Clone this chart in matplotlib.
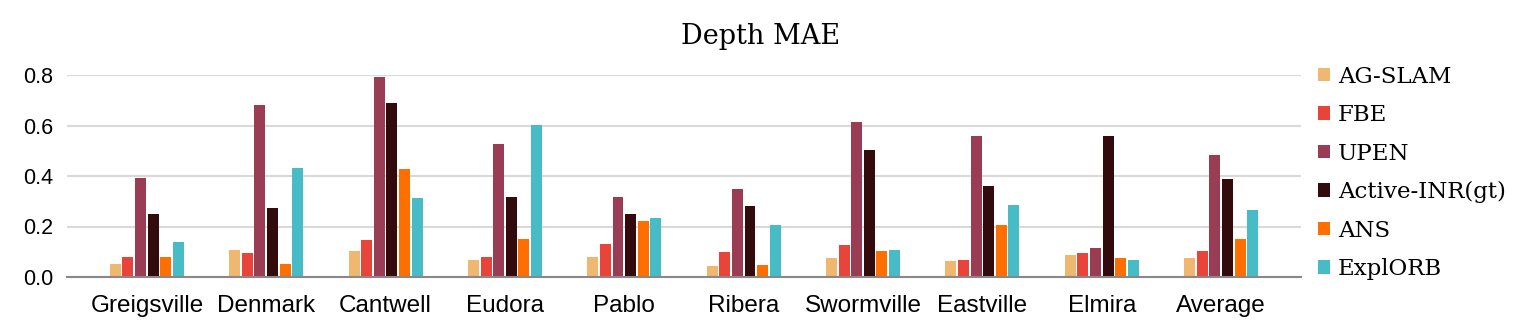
import matplotlib
matplotlib.use("Agg")
import matplotlib.pyplot as plt
import numpy as np
from matplotlib.patches import Patch

categories = ["Greigsville", "Denmark", "Cantwell", "Eudora", "Pablo",
              "Ribera", "Swormville", "Eastville", "Elmira", "Average"]
ag_slam = [0.051, 0.106, 0.102, 0.067, 0.078, 0.044, 0.074, 0.062, 0.086, 0.074]
fbe = [0.078, 0.094, 0.145, 0.078, 0.129, 0.098, 0.125, 0.067, 0.094, 0.102]
upen = [0.391, 0.680, 0.792, 0.525, 0.316, 0.350, 0.613, 0.560, 0.114, 0.484]
active_inr = [0.248, 0.272, 0.688, 0.318, 0.248, 0.280, 0.503, 0.360, 0.560, 0.388]
ans = [0.078, 0.051, 0.426, 0.152, 0.222, 0.048, 0.102, 0.206, 0.074, 0.152]
explorb = [0.137, 0.433, 0.314, 0.603, 0.232, 0.206, 0.106, 0.286, 0.066, 0.264]
series_names = ["AG-SLAM", "FBE", "UPEN", "Active-INR(gt)", "ANS", "ExplORB"]
y_ticks = [0.0, 0.2, 0.4, 0.6, 0.8]
title = "Depth MAE"

series = [ag_slam, fbe, upen, active_inr, ans, explorb]
colors = ["#EFB76F", "#E9443A", "#9B3C55", "#330B0C", "#FF6F00", "#47BCC6"]

fig = plt.figure(figsize=(15.22, 3.36), dpi=100)
ax = fig.add_axes([67/1522, 59/336, 1234/1522, 202/336])

x = np.arange(len(categories))
step = 0.106
width = 0.092
for i, (vals, c) in enumerate(zip(series, colors)):
    ax.bar(x + (i - 2.5) * step, vals, width=width, color=c, zorder=3,
           edgecolor="none")

ax.set_xlim(-0.67, len(categories) - 1 + 0.67)
ax.set_ylim(0, 0.8)
ax.set_yticks(y_ticks)
ax.set_yticklabels([f"{t:.1f}" for t in y_ticks], fontsize=15.5,
                   fontfamily="Liberation Sans")
ax.set_xticks(x)
ax.set_xticklabels(categories, fontsize=17.5, fontfamily="Liberation Sans")
ax.tick_params(axis="both", length=0)
ax.tick_params(axis="y", pad=10)
ax.tick_params(axis="x", pad=13)
ax.yaxis.grid(True, color="#D9D9D9", linewidth=1.5, zorder=0)
ax.set_axisbelow(True)
for s in ["top", "right", "left"]:
    ax.spines[s].set_visible(False)
ax.spines["bottom"].set_color("#888888")
ax.spines["bottom"].set_linewidth(1.5)
ax.spines["bottom"].set_zorder(4)

fig.text(0.5, 1 - 37/336, title, ha="center", va="center",
         fontsize=19.5, fontfamily="DejaVu Serif")

handles = [Patch(facecolor=c, edgecolor="none") for c in colors]
fig.legend(handles, series_names, loc="center left",
           bbox_to_anchor=(1318/1522, 1 - 173/336), frameon=False,
           borderpad=0, borderaxespad=0, handlelength=0.52, handleheight=0.52,
           handletextpad=0.35, labelspacing=0.72,
           prop={"family": "DejaVu Serif", "size": 16.5})

fig.savefig("out.png", dpi=100)
